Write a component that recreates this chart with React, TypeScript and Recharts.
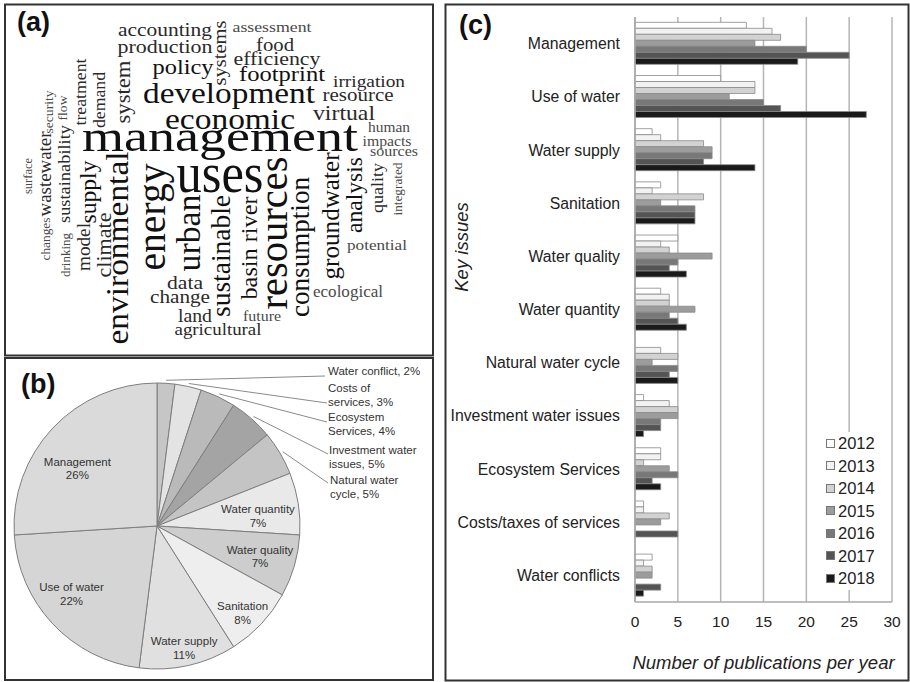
import React from 'react';
import { BarChart, Bar, XAxis, YAxis, CartesianGrid, Legend, PieChart, Pie, Cell } from 'recharts';

const SANS = '"Liberation Sans", Arial, Helvetica, sans-serif';
const SERIF = '"Liberation Serif", "Times New Roman", serif';

// ---------------- Panel (c) data ----------------
const categories = [
  'Management',
  'Use of water',
  'Water supply',
  'Sanitation',
  'Water quality',
  'Water quantity',
  'Natural water cycle',
  'Investment water issues',
  'Ecosystem Services',
  'Costs/taxes of services',
  'Water conflicts',
];
const years = ['2012', '2013', '2014', '2015', '2016', '2017', '2018'];
const pubs2012 = [13, 10, 2, 3, 5, 3, 0, 1, 3, 1, 2];
const pubs2013 = [16, 14, 3, 2, 3, 4, 3, 4, 3, 1, 1];
const pubs2014 = [17, 14, 8, 8, 4, 4, 5, 5, 1, 4, 2];
const pubs2015 = [14, 11, 9, 3, 9, 7, 2, 5, 4, 3, 2];
const pubs2016 = [20, 15, 9, 7, 5, 4, 5, 3, 5, 0, 0];
const pubs2017 = [25, 17, 8, 7, 4, 5, 4, 3, 2, 5, 3];
const pubs2018 = [19, 27, 14, 7, 6, 6, 5, 1, 3, 0, 1];
const xTicks = [0, 5, 10, 15, 20, 25, 30];

// ---------------- Panel (b) data ----------------
const pieNames = [
  'Water conflict',
  'Costs of services',
  'Ecosystem Services',
  'Investment water issues',
  'Natural water cycle',
  'Water quantity',
  'Water quality',
  'Sanitation',
  'Water supply',
  'Use of water',
  'Management',
];
const pieShares = [2, 3, 4, 5, 5, 7, 7, 8, 11, 22, 26];

// ---------------- Panel (a) words ----------------
const cloudWords = [
  'accounting', 'assessment', 'production', 'food', 'efficiency', 'policy', 'footprint',
  'irrigation', 'resource', 'development', 'virtual', 'economic', 'human', 'management',
  'impacts', 'sources', 'uses', 'potential', 'data', 'ecological', 'change', 'land',
  'future', 'agricultural',
  'systems', 'treatment', 'demand', 'system', 'security', 'flow', 'sustainability',
  'wastewater', 'surface', 'changes', 'drinking', 'model', 'supply', 'climate',
  'environmental', 'energy', 'urban', 'sustainable', 'basin river', 'resources',
  'consumption', 'groundwater', 'analysis', 'quality', 'integrated',
];

// ---------------- styles / layout ----------------
const yearColors = ['#ffffff', '#f2f2f2', '#d2d2d2', '#9c9c9c', '#787878', '#545454', '#1a1a1a'];
const pieColors = ['#c6c6c6', '#e3e3e3', '#bababa', '#a4a4a4', '#c4c4c4', '#e9e9e9', '#cdcdcd', '#eeeeee', '#e0e0e0', '#d5d5d5', '#dadada'];

// [x, y, fontSize, length, vertical]
const cloudLayout: [number, number, number, number, number][] = [
  [165, 36, 19, 94, 0],
  [272, 32, 15.5, 79, 0],
  [165, 53, 19, 95, 0],
  [275, 51, 18.5, 38, 0],
  [277, 65, 19, 87, 0],
  [183, 74, 22, 61, 0],
  [282, 81, 22, 86, 0],
  [369, 87, 17.5, 72, 0],
  [358, 100.5, 18, 71, 0],
  [229, 103, 30, 172, 0],
  [344, 120, 21, 62, 0],
  [230, 128.5, 30, 130, 0],
  [389, 132, 14, 42, 0],
  [220, 150.5, 45, 276, 0],
  [387, 145.5, 14, 49, 0],
  [394, 155.5, 14, 48, 0],
  [220, 191.5, 58, 87, 0],
  [377, 250, 15.5, 60, 0],
  [185, 289, 19, 36, 0],
  [348, 297, 16, 70, 0],
  [180, 302.5, 19, 60, 0],
  [195, 322, 18, 34, 0],
  [262, 320.5, 14, 38, 0],
  [218, 335, 17, 87, 0],
  [222, 53, 19, 65, 1],
  [82, 92, 17.5, 67, 1],
  [101, 100, 17.5, 56, 1],
  [125, 92, 21, 63, 1],
  [50, 112, 13, 43, 1],
  [64, 108, 13, 25, 1],
  [66, 174, 17.5, 98, 1],
  [47, 174, 18.5, 85, 1],
  [29, 176, 12, 36, 1],
  [47, 239, 13, 43, 1],
  [67, 255, 13, 44, 1],
  [86, 247, 19, 48, 1],
  [91, 192, 23, 63, 1],
  [106, 245, 20, 65, 1],
  [121, 248, 32, 193, 1],
  [156, 217, 39, 107, 1],
  [192, 233, 33, 77, 1],
  [224, 256, 27, 122, 1],
  [251, 248, 24, 103, 1],
  [277, 233, 43, 153, 1],
  [303, 247, 27, 140, 1],
  [333, 216, 25, 127, 1],
  [357, 195, 23, 76, 1],
  [379, 188, 17.5, 50, 1],
  [399, 189, 13, 53, 1],
];

const pieInnerLabels: Record<number, { r: number; nudge: number }> = {
  5: { r: 0.71, nudge: -3 },
  6: { r: 0.75, nudge: 0 },
  7: { r: 0.85, nudge: -2 },
  8: { r: 0.87, nudge: 0 },
  9: { r: 0.76, nudge: -5 },
  10: { r: 0.69, nudge: 7 },
};
const pieOuterLabels: Record<number, { ex: number; ey: number; tx: number; base: number; split: number }> = {
  0: { ex: 320, ey: 18, tx: 323, base: 17, split: 0 },
  1: { ex: 322, ey: 45, tx: 323, base: 34, split: 2 },
  2: { ex: 322, ey: 64, tx: 323, base: 63, split: 1 },
  3: { ex: 323, ey: 96, tx: 324, base: 96, split: 2 },
  4: { ex: 323, ey: 125, tx: 325, base: 126, split: 2 },
};

// ---------------- derived tables ----------------
const seriesByYear = [pubs2012, pubs2013, pubs2014, pubs2015, pubs2016, pubs2017, pubs2018];
const barData = categories.map((name, i) => {
  const row: Record<string, string | number> = { name };
  years.forEach((y, k) => {
    row['y' + y] = seriesByYear[k][i];
  });
  return row;
});
const edgeTicks = Array.from({ length: categories.length + 1 }, (_, i) => i);
const pieData = pieNames.map((name, i) => ({ name, value: pieShares[i] }));

const RAD = Math.PI / 180;

const renderPieLabel = (props: any) => {
  const { cx, cy, midAngle, outerRadius, index, percent } = props;
  const name: string = props.name ?? props.payload?.name ?? '';
  const pct = `${Math.round(percent * 100)}%`;
  const out = pieOuterLabels[index];
  if (out) {
    const sx = cx + (outerRadius + 3) * Math.cos(-midAngle * RAD);
    const sy = cy + (outerRadius + 3) * Math.sin(-midAngle * RAD);
    const words = name.split(' ');
    const lines =
      out.split === 0
        ? [`${name}, ${pct}`]
        : [words.slice(0, out.split).join(' '), `${words.slice(out.split).join(' ')}, ${pct}`];
    return (
      <g key={`ol-${index}`}>
        <line x1={sx} y1={sy} x2={out.ex} y2={out.ey} stroke="#8a8a8a" strokeWidth={1} />
        <text x={out.tx} y={out.base} fontSize={11.5} fill="#333" fontFamily={SANS}>
          {lines.map((l, k) => (
            <tspan key={k} x={out.tx} dy={k === 0 ? 0 : 14}>
              {l}
            </tspan>
          ))}
        </text>
      </g>
    );
  }
  const inner = pieInnerLabels[index];
  if (!inner) return null;
  const a = (midAngle + inner.nudge) * RAD;
  const r = outerRadius * inner.r;
  const px = cx + r * Math.cos(-a);
  const py = cy + r * Math.sin(-a);
  return (
    <text key={`il-${index}`} x={px} y={py - 2} textAnchor="middle" fontSize={11.5} fill="#333" fontFamily={SANS}>
      <tspan x={px} dy={0}>
        {name}
      </tspan>
      <tspan x={px} dy={13.5}>
        {pct}
      </tspan>
    </text>
  );
};

const renderLegend = (props: any) => {
  const payload = props.payload || [];
  return (
    <div style={{ background: '#fff', fontFamily: SANS }}>
      {payload.map((p: any, i: number) => (
        <div
          key={i}
          style={{ height: 22.5, display: 'flex', alignItems: 'center', fontSize: 16.5, color: '#222', lineHeight: '22.5px' }}
        >
          <span
            style={{
              display: 'inline-block',
              width: 7,
              height: 7,
              border: '1px solid #777',
              background: p.color,
              marginRight: 3,
            }}
          />
          <span>{p.value}</span>
        </div>
      ))}
    </div>
  );
};

const WordCloud = () => (
  <g fontFamily={SERIF}>
    {cloudWords.map((w, i) => {
      const [x, y, s, len, vert] = cloudLayout[i];
      const fill = s >= 22 ? '#111' : s >= 17 ? '#2a2a2a' : '#4a4a4a';
      if (vert) {
        const bx = x + 0.23 * s;
        return (
          <text
            key={w}
            x={bx}
            y={y}
            fontSize={s}
            textAnchor="middle"
            textLength={len}
            lengthAdjust="spacingAndGlyphs"
            fill={fill}
            transform={`rotate(-90 ${bx} ${y})`}
          >
            {w}
          </text>
        );
      }
      return (
        <text key={w} x={x} y={y} fontSize={s} textAnchor="middle" textLength={len} lengthAdjust="spacingAndGlyphs" fill={fill}>
          {w}
        </text>
      );
    })}
  </g>
);

export default function App() {
  return (
    <div
      style={{
        position: 'absolute',
        left: 0,
        top: 0,
        width: 910,
        height: 682,
        background: '#fff',
        fontFamily: SANS,
        overflow: 'hidden',
      }}
    >
      <svg width={910} height={682} style={{ position: 'absolute', left: 0, top: 0 }}>
        <rect x={5} y={4.5} width={428} height={351} fill="none" stroke="#333" strokeWidth={2} />
        <rect x={5} y={358} width={428} height={322} fill="none" stroke="#333" strokeWidth={2} />
        <rect x={445.5} y={4.5} width={463} height={676} fill="none" stroke="#333" strokeWidth={2} />
        <text x={17} y={31} fontSize={27} fontWeight="bold" fontFamily={SANS} fill="#111">
          (a)
        </text>
        <text x={21} y={393} fontSize={27} fontWeight="bold" fontFamily={SANS} fill="#111">
          (b)
        </text>
        <text x={459} y={34} fontSize={27} fontWeight="bold" fontFamily={SANS} fill="#111">
          (c)
        </text>
        <text
          x={468}
          y={247}
          textAnchor="middle"
          fontSize={18.5}
          fontStyle="italic"
          fontFamily={SANS}
          fill="#222"
          transform="rotate(-90 468 247)"
        >
          Key issues
        </text>
        <WordCloud />
      </svg>

      <div style={{ position: 'absolute', left: 5, top: 358 }}>
        <PieChart width={428} height={322} margin={{ top: 0, right: 0, bottom: 0, left: 0 }}>
          <Pie
            data={pieData}
            dataKey="value"
            nameKey="name"
            cx={152}
            cy={168}
            outerRadius={143}
            startAngle={90}
            endAngle={-270}
            stroke="#7e7e7e"
            strokeWidth={1}
            label={renderPieLabel}
            labelLine={false}
            isAnimationActive={false}
          >
            {pieData.map((d, i) => (
              <Cell key={d.name} fill={pieColors[i]} />
            ))}
          </Pie>
        </PieChart>
      </div>

      <div style={{ position: 'absolute', left: 445, top: 5 }}>
        <BarChart
          layout="vertical"
          width={463}
          height={676}
          data={barData}
          margin={{ top: 12, right: 16, bottom: 0, left: 0 }}
          barGap={0}
          barCategoryGap="10%"
        >
          <CartesianGrid horizontal={false} stroke="#b5b5b5" strokeWidth={1.5} />
          <XAxis
            type="number"
            domain={[0, 30]}
            ticks={xTicks}
            height={79}
            tickLine={false}
            tickSize={0}
            tickMargin={14}
            axisLine={{ stroke: '#a8a8a8', strokeWidth: 1.5 }}
            tick={{ fontSize: 15.5, fill: '#222', fontFamily: SANS }}
            label={{
              value: 'Number of publications per year',
              position: 'insideBottom',
              offset: 12,
              fontSize: 18.5,
              fontStyle: 'italic',
              fill: '#222',
              fontFamily: SANS,
            }}
          />
          <YAxis
            yAxisId="edge"
            type="number"
            domain={[0, categories.length]}
            ticks={edgeTicks}
            width={0}
            tick={false}
            tickSize={4}
            tickLine={{ stroke: '#a8a8a8', strokeWidth: 1.2 }}
            axisLine={false}
            allowDataOverflow
          />
          <YAxis
            type="category"
            dataKey="name"
            width={190}
            interval={0}
            tickLine={false}
            tickSize={0}
            tickMargin={15}
            axisLine={{ stroke: '#a8a8a8', strokeWidth: 1.5 }}
            tick={{ fontSize: 15.8, fill: '#222', fontFamily: SANS }}
          />
          <Legend
            layout="vertical"
            align="center"
            verticalAlign="middle"
            wrapperStyle={{ left: 381, top: 427, width: 60, right: 'auto', bottom: 'auto' }}
            content={renderLegend}
          />
          {years.map((y, k) => (
            <Bar
              key={y}
              dataKey={'y' + y}
              name={y}
              fill={yearColors[k]}
              stroke="#8a8a8a"
              strokeWidth={0.8}
              isAnimationActive={false}
            />
          ))}
        </BarChart>
      </div>
    </div>
  );
}
